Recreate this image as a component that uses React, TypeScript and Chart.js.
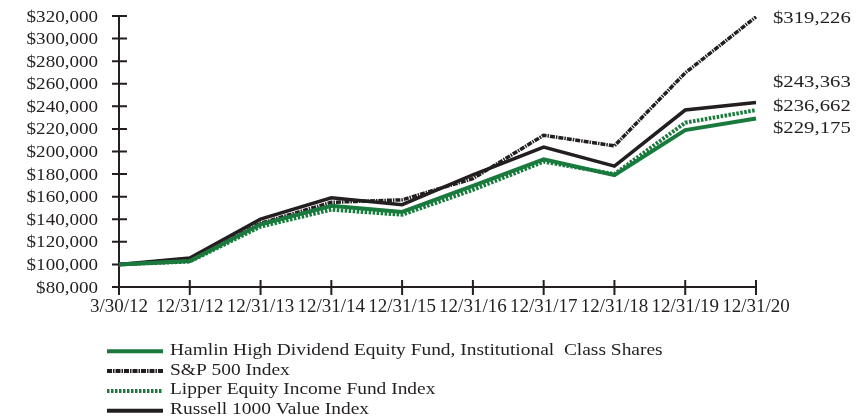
import React, { useEffect, useRef } from "react";
import { Chart, registerables } from "chart.js";

Chart.register(...registerables);

// ---- data ----
const categories = [
  "3/30/12", "12/31/12", "12/31/13", "12/31/14", "12/31/15",
  "12/31/16", "12/31/17", "12/31/18", "12/31/19", "12/31/20",
];
const seriesNames = [
  "Hamlin High Dividend Equity Fund, Institutional  Class Shares",
  "S&P 500 Index",
  "Lipper Equity Income Fund Index",
  "Russell 1000 Value Index",
];
const hamlin = [100000, 103000, 135500, 152000, 146500, 169500, 193000, 179000, 219000, 229175];
const sp500 = [100000, 103000, 136400, 155000, 157200, 176000, 214400, 205000, 269600, 319226];
const lipper = [100000, 102500, 133500, 148500, 144000, 166000, 191000, 180000, 225500, 236662];
const russell = [100000, 105700, 140100, 159000, 152900, 179400, 203900, 187000, 236700, 243363];
const yMin = 80000;
const yMax = 320000;
const yStep = 20000;

// ---- styles ----
const INK = "#231f20";
const GREEN = "#1a7a3e";
const SERIF = "'Liberation Serif', 'Times New Roman', serif";

const fmt = (v: number) => "$" + Math.round(v).toLocaleString("en-US");

function stretchedText(
  ctx: CanvasRenderingContext2D,
  text: string,
  x: number,
  y: number,
  size: number,
  sx: number,
  align: CanvasTextAlign
) {
  ctx.save();
  ctx.font = `${size}px ${SERIF}`;
  ctx.fillStyle = INK;
  ctx.textAlign = align;
  ctx.textBaseline = "alphabetic";
  ctx.translate(x, y);
  ctx.scale(sx, 1);
  ctx.fillText(text, 0, 0);
  ctx.restore();
}

const endLabelShift = [8.3, 0, -5.5, -21.6];

const decor = {
  id: "decor",
  beforeDatasetsDraw(chart: any) {
    const { ctx, chartArea: a } = chart;
    const x = chart.scales.x;
    const y = chart.scales.y;
    ctx.save();
    ctx.strokeStyle = INK;
    ctx.lineWidth = 2;
    ctx.beginPath();
    ctx.moveTo(a.left, a.top);
    ctx.lineTo(a.left, a.bottom);
    ctx.moveTo(a.left - 7, a.bottom);
    ctx.lineTo(a.right, a.bottom);
    y.ticks.forEach((t: any) => {
      const py = y.getPixelForValue(t.value);
      ctx.moveTo(a.left - 7, py);
      ctx.lineTo(a.left + 8, py);
    });
    x.ticks.forEach((_t: any, i: number) => {
      const px = x.getPixelForTick(i);
      ctx.moveTo(px, a.bottom - 7);
      ctx.lineTo(px, a.bottom + 8);
    });
    ctx.stroke();
    ctx.restore();

    y.ticks.forEach((t: any) => {
      stretchedText(ctx, fmt(t.value), a.left - 21, y.getPixelForValue(t.value) + 5.5, 16, 1.19, "right");
    });
    x.ticks.forEach((_t: any, i: number) => {
      stretchedText(ctx, categories[i], x.getPixelForTick(i), a.bottom + 24.5, 19, 1.0, "center");
    });
  },
  afterDatasetsDraw(chart: any) {
    const { ctx, chartArea: a } = chart;
    const y = chart.scales.y;
    const ds = chart.data.datasets;
    ds.forEach((d: any, i: number) => {
      const last = d.data[d.data.length - 1];
      stretchedText(ctx, fmt(last), a.right + 17, y.getPixelForValue(last) + 6.4 + endLabelShift[i], 17, 1.22, "left");
    });
    // legend
    ds.forEach((d: any, i: number) => {
      const ly = 351.3 + i * 19.8;
      ctx.save();
      ctx.strokeStyle = d.borderColor;
      ctx.lineWidth = 4;
      ctx.setLineDash(d.borderDash || []);
      ctx.beginPath();
      ctx.moveTo(107, ly);
      ctx.lineTo(163, ly);
      ctx.stroke();
      ctx.restore();
      stretchedText(ctx, d.label, 170, ly + 3.5, 17.5, 1.11, "left");
    });
  },
};

export default function App() {
  const ref = useRef<HTMLCanvasElement | null>(null);
  useEffect(() => {
    if (!ref.current) return;
    const chart = new Chart(ref.current, {
      type: "line",
      data: {
        labels: categories,
        datasets: [
          { label: seriesNames[0], data: hamlin, borderColor: GREEN, borderWidth: 4, borderDash: [] },
          { label: seriesNames[1], data: sp500, borderColor: INK, borderWidth: 3.5, borderDash: [5, 1, 1.5, 1] },
          { label: seriesNames[2], data: lipper, borderColor: GREEN, borderWidth: 4, borderDash: [2.5, 1.5] },
          { label: seriesNames[3], data: russell, borderColor: INK, borderWidth: 3.5, borderDash: [] },
        ].map((d) => ({ ...d, pointRadius: 0, tension: 0, fill: false, borderCapStyle: "butt" as const })),
      },
      options: {
        animation: false,
        responsive: true,
        maintainAspectRatio: false,
        layout: { padding: { left: 0, right: 102, top: 16, bottom: 121 } },
        plugins: { legend: { display: false }, tooltip: { enabled: false } },
        scales: {
          x: {
            type: "category",
            offset: false,
            grid: { display: false, drawTicks: false },
            border: { display: false },
            ticks: { display: false, autoSkip: false },
            afterFit: (s: any) => { s.height = 10; },
          },
          y: {
            type: "linear",
            min: yMin,
            max: yMax,
            grid: { display: false, drawTicks: false },
            border: { display: false },
            ticks: { display: false, stepSize: yStep },
            afterFit: (s: any) => { s.width = 119; },
          },
        },
      },
      plugins: [decor],
    });
    return () => chart.destroy();
  }, []);
  return (
    <div style={{ position: "absolute", left: 0, top: 0, width: 858, height: 418, background: "#fff" }}>
      <canvas ref={ref} />
    </div>
  );
}
